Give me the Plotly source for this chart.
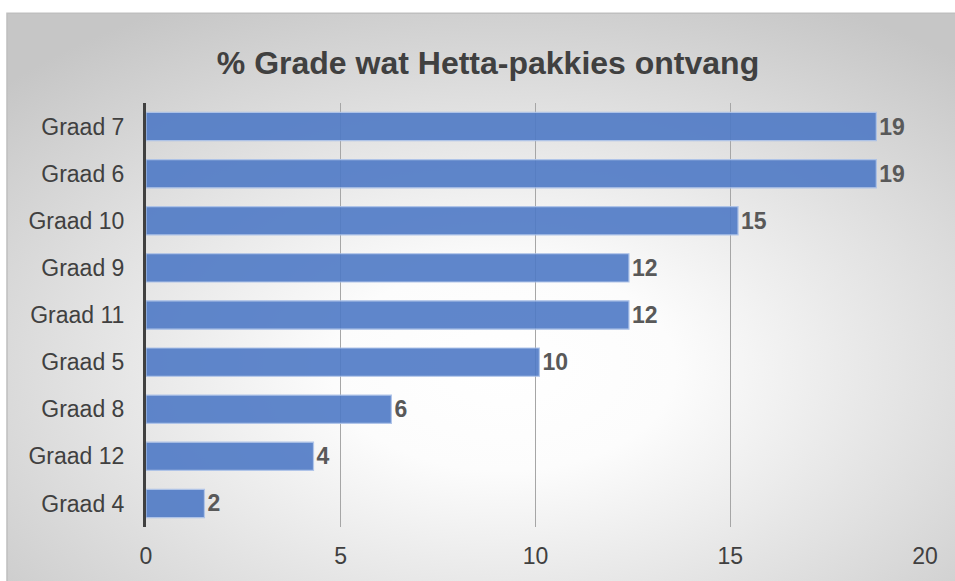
import base64
import plotly.graph_objects as go

# --- data ---
grades = ["Graad 7", "Graad 6", "Graad 10", "Graad 9", "Graad 11",
          "Graad 5", "Graad 8", "Graad 12", "Graad 4"]
percent = [18.75, 18.75, 15.2, 12.4, 12.4, 10.1, 6.3, 4.3, 1.5]
x_ticks = [0, 5, 10, 15, 20]

W, H = 955, 581
L, R, T, B = 146, 30, 103, 48
pw, ph = W - L - R, H - T - B


def px_x(px):
    return (px - L) / pw


def px_y(py):
    return (H - B - py) / ph


# radial gradient background (white centre -> grey edges)
svg = """<svg xmlns='http://www.w3.org/2000/svg' width='960' height='580'>
<defs><radialGradient id='g' cx='0.52' cy='0.62' r='0.72'>
<stop offset='0' stop-color='#ffffff'/>
<stop offset='0.25' stop-color='#fcfcfc'/>
<stop offset='1' stop-color='#c6c6c6'/>
</radialGradient></defs>
<rect width='960' height='580' fill='url(#g)'/></svg>"""
bg_src = "data:image/svg+xml;base64," + base64.b64encode(svg.encode()).decode()

fig = go.Figure()

fig.add_trace(go.Bar(
    x=percent, y=grades, orientation="h",
    marker=dict(color="#4F7AC6", opacity=0.9, line=dict(color="#A9C0E8", width=1.2)),
    width=0.6,
    texttemplate="<b>%{x:.0f}</b>",
    textposition="outside",
    textfont=dict(family="Liberation Sans, Arial", size=23, color="#595959"),
    cliponaxis=False,
    showlegend=False,
))

fig.add_layout_image(dict(
    source=bg_src, xref="paper", yref="paper",
    x=px_x(7), y=px_y(12),
    sizex=(962 - 7) / pw, sizey=(592 - 12) / ph,
    sizing="stretch", xanchor="left", yanchor="top", layer="below",
))

# frame border
fig.add_shape(type="rect", xref="paper", yref="paper",
              x0=px_x(7), x1=px_x(970), y0=px_y(12), y1=px_y(600),
              line=dict(color="#BFBFBF", width=1.5), layer="below")

fig.update_layout(
    width=W, height=H,
    margin=dict(l=L, r=R, t=T, b=B),
    paper_bgcolor="white",
    plot_bgcolor="rgba(0,0,0,0)",
    font=dict(family="Liberation Sans, Arial", color="#404040"),
    title=dict(text="<b>% Grade wat Hetta-pakkies ontvang</b>",
               x=488 / W, xanchor="center", y=1 - 63 / H, yanchor="middle",
               font=dict(size=32, color="#404040")),
)

fig.update_xaxes(
    range=[0, 20], tickvals=x_ticks, showgrid=True, gridcolor="#A6A6A6", gridwidth=1,
    zeroline=False, showline=False, ticks="",
    tickfont=dict(size=23, color="#404040"), ticklabelstandoff=13,
)
fig.update_yaxes(
    autorange="reversed", showline=True, linecolor="#404040", linewidth=3,
    showgrid=False, ticks="", tickfont=dict(size=23, color="#404040"),
    ticklabelstandoff=14,
)

# drop the default body margin so the figure fills the window exactly
fig.write_html("out.html", config={"displayModeBar": False}, post_script=(
    "document.body.style.margin='0';"
    "document.documentElement.style.overflow='hidden';"
))
